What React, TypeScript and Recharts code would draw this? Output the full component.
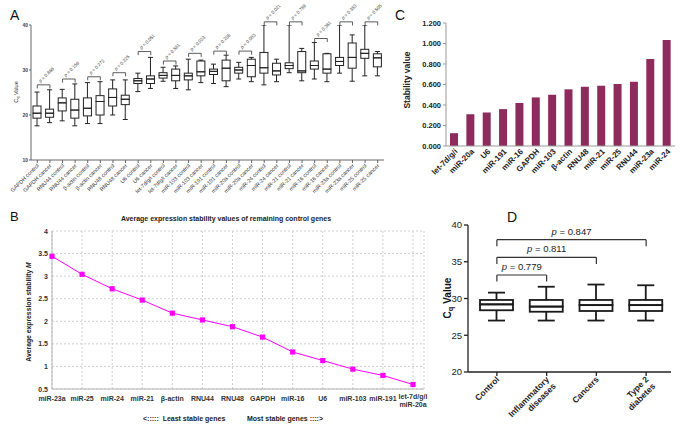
import React from 'react';
import { ComposedChart, BarChart, LineChart, Bar, Line, XAxis, YAxis, CartesianGrid, ReferenceLine } from 'recharts';

const FONT = '"Liberation Sans", Arial, Helvetica, sans-serif';

// ---------- Panel A: Cq values per gene, control vs cancer ----------
const aCategories = ['GAPDH control', 'GAPDH cancer', 'RNU44 control', 'RNU44 cancer', 'β-actin control', 'β-actin cancer', 'RNU48 control', 'RNU48 cancer', 'U6 control', 'U6 cancer', 'let-7d/g/i control', 'let-7d/g/i cancer', 'miR-103 control', 'miR-103 cancer', 'miR-191 control', 'miR-191 cancer', 'miR-20a control', 'miR-20a cancer', 'miR-24 control', 'miR-24 cancer', 'miR-21 control', 'miR-21 cancer', 'miR-16 control', 'miR-16 cancer', 'miR-23a control', 'miR-23a cancer', 'miR-25 control', 'miR-25 cancer'];
const aMin = [17.6, 18.3, 18.7, 17.6, 18.1, 18.1, 20.0, 19.0, 25.2, 25.9, 27.5, 25.9, 25.6, 27.2, 27.0, 26.3, 28.0, 27.4, 26.7, 27.4, 29.4, 27.6, 28.0, 27.4, 29.3, 27.5, 28.7, 28.7];
const aQ1 = [19.3, 19.5, 20.9, 19.3, 19.8, 20.0, 22.0, 22.3, 27.0, 27.0, 28.2, 27.6, 27.8, 28.7, 29.0, 27.6, 29.3, 28.5, 29.3, 28.9, 30.3, 29.4, 30.2, 29.3, 31.0, 30.4, 32.6, 30.7];
const aMed = [20.4, 20.4, 22.7, 21.1, 21.5, 23.0, 23.9, 23.5, 27.6, 28.0, 28.8, 28.8, 28.7, 29.6, 29.7, 30.4, 30.0, 31.0, 30.5, 29.8, 31.0, 29.8, 31.0, 30.2, 31.9, 32.8, 33.7, 32.7];
const aQ3 = [22.0, 21.3, 23.8, 23.5, 23.8, 24.3, 25.8, 24.4, 28.1, 28.7, 29.4, 30.2, 29.3, 32.0, 30.2, 32.2, 30.6, 32.4, 33.9, 31.5, 31.6, 34.1, 32.0, 33.6, 32.8, 36.0, 34.6, 33.6];
const aMax = [25.1, 25.6, 25.7, 26.9, 27.2, 27.4, 27.8, 27.8, 29.3, 32.8, 30.6, 30.9, 32.4, 32.2, 31.3, 33.3, 31.7, 32.8, 40.0, 32.4, 40.0, 34.8, 36.1, 33.7, 40.0, 37.8, 40.0, 34.1];
const aBracket = [26.7, 28.0, 28.5, 29.4, 34.1, 32.0, 33.7, 34.2, 34.2, 40.7, 40.7, 37.0, 40.7, 40.7];
const aPValues = ['0.866', '0.156', '0.272', '0.225', '0.051', '0.581', '0.023', '0.208', '0.083', '0.021', '0.789', '0.361', '0.383', '0.505'];
const aTicks = [10, 20, 30, 40];

// ---------- Panel B: geNorm average expression stability ----------
const bGenes = ['miR-23a', 'miR-25', 'miR-24', 'miR-21', 'β-actin', 'RNU44', 'RNU48', 'GAPDH', 'miR-16', 'U6', 'miR-103', 'miR-191', 'let-7d/g/i\nmiR-20a'];
const bM = [3.44, 3.04, 2.72, 2.47, 2.18, 2.03, 1.88, 1.65, 1.32, 1.13, 0.94, 0.80, 0.60];
const bTicks = [0.5, 1, 1.5, 2, 2.5, 3, 3.5, 4];

// ---------- Panel C: NormFinder stability value ----------
const cGenes = ['let-7d/g/i', 'miR-20a', 'U6', 'miR-191', 'miR-16', 'GAPDH', 'miR-103', 'β-actin', 'RNU48', 'miR-21', 'miR-25', 'RNU44', 'miR-23a', 'miR-24'];
const cValues = [0.125, 0.31, 0.327, 0.36, 0.42, 0.474, 0.5, 0.553, 0.578, 0.588, 0.605, 0.627, 0.85, 1.035];
const cTicks = [0, 0.2, 0.4, 0.6, 0.8, 1.0, 1.2];

// ---------- Panel D: Cq by disease group ----------
const dGroups = ['Control', 'Inflammatory\ndiseases', 'Cancers', 'Type 2\ndiabetes'];
const dMin = [27.0, 27.0, 27.0, 27.0];
const dQ1 = [28.4, 28.2, 28.3, 28.3];
const dMed = [29.2, 28.9, 29.1, 29.1];
const dQ3 = [29.8, 29.8, 29.8, 29.8];
const dMax = [30.8, 31.6, 31.9, 31.8];
const dBracketTo = [1, 2, 3];
const dBracketY = [33.2, 35.6, 38.0];
const dPValues = ['0.779', '0.811', '0.847'];
const dTicks = [20, 25, 30, 35, 40];

function boxRows(names: string[], mn: number[], q1: number[], md: number[], q3: number[], mx: number[]) {
  return names.map((n, i) => ({
    name: n,
    base: mn[i],
    lw: q1[i] - mn[i],
    b1: md[i] - q1[i],
    b2: q3[i] - md[i],
    uw: mx[i] - q3[i],
  }));
}

const aRows = boxRows(aCategories, aMin, aQ1, aMed, aQ3, aMax);
const dRows = boxRows(dGroups, dMin, dQ1, dMed, dQ3, dMax);
const bRows = bGenes.map((g, i) => ({ gene: g, m: bM[i] }));
const cRows = cGenes.map((g, i) => ({ gene: g, v: cValues[i] }));

function boxBars(stroke: string, sw: number, cap: number, size: number) {
  const ln = (x1: number, y1: number, x2: number, y2: number) => (
    <line x1={x1} y1={y1} x2={x2} y2={y2} stroke={stroke} strokeWidth={sw} />
  );
  const lower = (p: any) => {
    const cx = p.x + p.width / 2;
    const b = p.y + p.height;
    return <g>{ln(cx, p.y, cx, b)}{ln(cx - cap / 2, b, cx + cap / 2, b)}</g>;
  };
  const upper = (p: any) => {
    const cx = p.x + p.width / 2;
    return <g>{ln(cx, p.y + p.height, cx, p.y)}{ln(cx - cap / 2, p.y, cx + cap / 2, p.y)}</g>;
  };
  const box = (p: any) => (
    <rect x={p.x} y={p.y} width={p.width} height={p.height} fill="none" stroke={stroke} strokeWidth={sw} />
  );
  return [
    <Bar key="base" dataKey="base" stackId="box" barSize={size} fill="none" shape={() => <g />} isAnimationActive={false} />,
    <Bar key="lw" dataKey="lw" stackId="box" barSize={size} shape={lower} isAnimationActive={false} />,
    <Bar key="b1" dataKey="b1" stackId="box" barSize={size} shape={box} isAnimationActive={false} />,
    <Bar key="b2" dataKey="b2" stackId="box" barSize={size} shape={box} isAnimationActive={false} />,
    <Bar key="uw" dataKey="uw" stackId="box" barSize={size} shape={upper} isAnimationActive={false} />,
  ];
}

function brackets(
  fromNames: string[], toNames: string[], ys: number[], pvals: string[], tick: number,
  stroke: string, sw: number, labelFn: (p: any, text: string) => any, overflow: any
) {
  const out: any[] = [];
  fromNames.forEach((from, i) => {
    const to = toNames[i];
    const y = ys[i];
    out.push(
      <ReferenceLine key={'h' + i} segment={[{ x: from, y }, { x: to, y }]} stroke={stroke} strokeWidth={sw} ifOverflow={overflow}
        label={(p: any) => labelFn(p, pvals[i])} />
    );
    out.push(<ReferenceLine key={'l' + i} segment={[{ x: from, y }, { x: from, y: y - tick }]} stroke={stroke} strokeWidth={sw} ifOverflow={overflow} />);
    out.push(<ReferenceLine key={'r' + i} segment={[{ x: to, y }, { x: to, y: y - tick }]} stroke={stroke} strokeWidth={sw} ifOverflow={overflow} />);
  });
  return out;
}

const aLabel = (p: any, text: string) => {
  const vb = p.viewBox || {};
  const cx = (vb.x ?? 0) + (vb.width ?? 0) / 2 - 3;
  const cy = (vb.y ?? 0) - 2;
  return (
    <text x={cx} y={cy} transform={`rotate(-45 ${cx} ${cy})`} fontSize={4.6} fill="#444" fontFamily={FONT}>
      <tspan fontStyle="italic">p</tspan> = {text}
    </text>
  );
};

const dLabel = (p: any, text: string) => {
  const vb = p.viewBox || {};
  const cx = (vb.x ?? 0) + (vb.width ?? 0) / 2;
  const cy = (vb.y ?? 0) - 5;
  return (
    <text x={cx} y={cy} textAnchor="middle" fontSize={9.5} fill="#222" fontFamily={FONT}>
      <tspan fontStyle="italic">p</tspan> = {text}
    </text>
  );
};

const ATick = ({ x, y, payload }: any) => {
  const px = x + 2, py = y + 3;
  return (
    <text x={px} y={py} transform={`rotate(-45 ${px} ${py})`} textAnchor="end" fontSize={5.5} fill="#333" fontFamily={FONT}>
      {payload.value}
    </text>
  );
};

const AYTick = ({ x, y, payload }: any) => (
  <text x={x} y={y + 2} textAnchor="end" fontSize={5} fontWeight="bold" fill="#444" fontFamily={FONT}>{payload.value}</text>
);

const BTick = ({ x, y, payload }: any) => {
  const lines = String(payload.value).split('\n');
  return (
    <text x={x} y={lines.length > 1 ? y + 10 : y + 12} textAnchor="middle" fontSize={7} fontWeight="bold" fill="#333" fontFamily={FONT}>
      {lines.map((l, i) => <tspan key={i} x={x} dy={i === 0 ? 0 : 8}>{l}</tspan>)}
    </text>
  );
};

const BYTick = ({ x, y, payload }: any) => (
  <text x={x - 4} y={y + 2.5} textAnchor="end" fontSize={7} fontWeight="bold" fill="#333" fontFamily={FONT}>{payload.value}</text>
);

const CTick = ({ x, y, payload }: any) => {
  const px = x + 4, py = y + 6;
  return (
    <text x={px} y={py} transform={`rotate(-45 ${px} ${py})`} textAnchor="end" fontSize={8} fontWeight="bold" fill="#222" fontFamily={FONT}>
      {payload.value}
    </text>
  );
};

const DTick = ({ x, y, payload }: any) => {
  const px = x + 3, py = y + 4;
  const lines = String(payload.value).split('\n');
  return (
    <text x={px} y={py} transform={`rotate(-45 ${px} ${py})`} textAnchor="end" fontSize={8.5} fontWeight="bold" fill="#222" fontFamily={FONT}>
      {lines.map((l, i) => <tspan key={i} x={px} dy={i === 0 ? 0 : 9.5}>{l}</tspan>)}
    </text>
  );
};

const squareDot = (p: any) => (
  <rect key={'d' + p.index} x={p.cx - 2.6} y={p.cy - 2.6} width={5.2} height={5.2} fill="#ff00ff" />
);

export default function App() {
  const aFrom = aCategories.filter((_, i) => i % 2 === 0);
  const aTo = aCategories.filter((_, i) => i % 2 === 1);
  const dFrom = dBracketTo.map(() => dGroups[0]);
  const dTo = dBracketTo.map((k) => dGroups[k]);
  return (
    <div style={{ position: 'absolute', left: 0, top: 0, width: 683, height: 431, background: '#fff', fontFamily: FONT, overflow: 'hidden' }}>
      {/* Panel A */}
      <div style={{ position: 'absolute', left: 0, top: 0 }}>
        <ComposedChart width={400} height={200} data={aRows} margin={{ top: 25, right: 16, left: 0, bottom: 0 }}>
          <XAxis dataKey="name" interval={0} height={40} tick={ATick} tickSize={3} tickMargin={0}
            tickLine={{ stroke: '#666' }} axisLine={{ stroke: '#666' }} />
          <YAxis domain={[10, 40]} ticks={aTicks} interval={0} allowDataOverflow width={31} tickSize={2} tickMargin={1}
            tick={AYTick} tickLine={{ stroke: '#666' }} axisLine={{ stroke: '#666' }} />
          {boxBars('#222', 1, 5, 8)}
          {brackets(aFrom, aTo, aBracket, aPValues, 0.8, '#333', 0.8, aLabel, 'visible')}
        </ComposedChart>
      </div>

      {/* Panel B */}
      <div style={{ position: 'absolute', left: 0, top: 200 }}>
        <LineChart width={440} height={231} data={bRows} margin={{ top: 31, right: 16, left: 0, bottom: 0 }}>
          <CartesianGrid stroke="#cfcfcf" strokeDasharray="2 2" />
          <XAxis dataKey="gene" interval={0} padding={{ left: 0, right: 11 }} height={42} tick={BTick}
            tickLine={false} tickSize={0} tickMargin={0} axisLine={{ stroke: '#b5b5b5' }} />
          <YAxis domain={[0.5, 4]} ticks={bTicks} interval={0} width={52} tick={BYTick} tickLine={false} tickSize={0}
            tickMargin={0} axisLine={{ stroke: '#b5b5b5' }} />
          <YAxis yAxisId="frame" orientation="right" width={0} domain={[0, 1]} tick={false} tickLine={false}
            axisLine={{ stroke: '#b5b5b5' }} />
          <Line dataKey="m" stroke="#ff00ff" strokeWidth={1} dot={squareDot} isAnimationActive={false} />
        </LineChart>
      </div>

      {/* Panel C */}
      <div style={{ position: 'absolute', left: 380, top: 0 }}>
        <BarChart width={300} height={220} data={cRows} margin={{ top: 23, right: 5, left: 0, bottom: 0 }}>
          <XAxis dataKey="gene" interval={0} height={74} tick={CTick} tickLine={false} tickSize={0} tickMargin={0}
            axisLine={{ stroke: '#999' }} />
          <YAxis domain={[0, 1.2]} ticks={cTicks} interval={0} width={66} tickFormatter={(v: number) => v.toFixed(3)}
            tick={{ fontSize: 7.5, fontWeight: 'bold', fill: '#222', fontFamily: FONT }} tickSize={3} tickMargin={2}
            tickLine={{ stroke: '#999' }} axisLine={{ stroke: '#999' }} />
          <Bar dataKey="v" fill="#8d2c5c" barSize={8} isAnimationActive={false} />
        </BarChart>
      </div>

      {/* Panel D */}
      <div style={{ position: 'absolute', left: 400, top: 200 }}>
        <ComposedChart width={283} height={231} data={dRows} margin={{ top: 25, right: 12, left: 0, bottom: 0 }}>
          <XAxis dataKey="name" interval={0} height={59} padding={{ left: 4, right: 0 }} tick={DTick} tickSize={4}
            tickMargin={0} tickLine={{ stroke: '#222', strokeWidth: 1.3 }} axisLine={{ stroke: '#222', strokeWidth: 1.3 }} />
          <YAxis domain={[20, 40]} ticks={dTicks} interval={0} allowDataOverflow width={68} tickSize={4} tickMargin={2}
            tick={{ fontSize: 9.5, fill: '#222', fontFamily: FONT }} tickLine={{ stroke: '#222', strokeWidth: 1.3 }}
            axisLine={{ stroke: '#222', strokeWidth: 1.3 }} />
          {boxBars('#1a1a1a', 1.8, 17, 33)}
          {brackets(dFrom, dTo, dBracketY, dPValues, 0.9, '#333', 1.2, dLabel, 'visible')}
        </ComposedChart>
      </div>

      {/* Titles and panel letters */}
      <svg width={683} height={431} style={{ position: 'absolute', left: 0, top: 0, pointerEvents: 'none' }} fontFamily={FONT}>
        <text x={10} y={20} fontSize={14} fill="#111">A</text>
        <text x={18} y={92} transform="rotate(-90 18 92)" textAnchor="middle" fontSize={5.5} fill="#333">
          <tspan>C</tspan><tspan fontSize={4} dy={1.2}>q</tspan><tspan dy={-1.2}> Value</tspan>
        </text>

        <text x={10} y={221} fontSize={13} fill="#111">B</text>
        <text x={226} y={221} textAnchor="middle" fontSize={7} fontWeight="bold" fill="#222">
          Average expression stability values of remaining control genes
        </text>
        <text x={31} y={312} transform="rotate(-90 31 312)" textAnchor="middle" fontSize={6.8} fontWeight="bold" fill="#222">
          Average expression stability <tspan fontStyle="italic">M</tspan>
        </text>
        <text x={143} y={421} fontSize={7} fontWeight="bold" fill="#222" xmlSpace="preserve">{'<:::::  Least stable genes'}</text>
        <text x={247} y={421} fontSize={7} fontWeight="bold" fill="#222">{'Most stable genes ::::>'}</text>

        <text x={395} y={20} fontSize={14} fill="#111">C</text>
        <text x={410} y={80} transform="rotate(-90 410 80)" textAnchor="middle" fontSize={8.5} fontWeight="bold" fill="#222">
          Stability value
        </text>

        <text x={507} y={222} fontSize={14} fill="#111">D</text>
        <text x={451} y={298} transform="rotate(-90 451 298)" textAnchor="middle" fontSize={10} fontWeight="bold" fill="#111">
          <tspan>C</tspan><tspan fontSize={7.5} dy={2}>q</tspan><tspan dy={-2}> Value</tspan>
        </text>
      </svg>
    </div>
  );
}
